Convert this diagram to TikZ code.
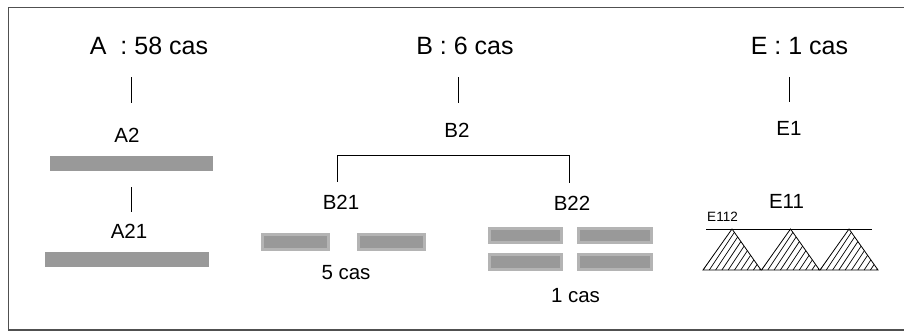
\documentclass[tikz,border=0pt]{standalone}
\usepackage{fontspec}
\setmainfont{Liberation Sans}
\begin{document}
\begin{tikzpicture}[x=1pt,y=-1pt,
  title/.style={inner sep=0pt,font=\fontsize{25}{30}\selectfont},
  lab/.style={inner sep=0pt,font=\fontsize{20.5}{24}\selectfont},
  small/.style={inner sep=0pt,font=\fontsize{13.5}{16}\selectfont},
  bar/.style={fill=barg,draw=none,inner sep=0pt},
  bbar/.style={fill=barg,draw=barl,line width=3pt,inner sep=0pt},
  conn/.style={draw=black,line width=0.8pt},
  hatch/.style={black,line width=0.7pt},
  tri/.style={draw=black,line width=0.8pt}]
\definecolor{barg}{HTML}{999999}
\definecolor{barl}{HTML}{B4B4B4}
\definecolor{framec}{HTML}{505050}
\useasboundingbox (0,0) rectangle (904,332);
% frame
\draw[framec,line width=1.2pt] (904,7.5) -- (8.5,7.5) -- (8.5,330) -- (904,330);

% ---- A column
\node[title] (at) at (149,46) {A\ \ : 58 cas};
\node[lab] (a2) at (127,135) {A2};
\node[bar,minimum width=163pt,minimum height=15pt] (a2bar) at (131.5,163.5) {};
\node[lab] (a21) at (129,231) {A21};
\node[bar,minimum width=164pt,minimum height=15pt] (a21bar) at (127,259.5) {};
\draw[conn] ([yshift=-22pt]at.south -| a2bar.north) -- ([yshift=-48pt]at.south -| a2bar.north);
\draw[conn] ([yshift=-16pt]a2bar.south) -- ([yshift=-41pt]a2bar.south);

% ---- B column
\node[title] (bt) at (465,46) {B : 6 cas};
\node[lab] (b2) at (457,130) {B2};
\draw[conn] ([yshift=-22pt]bt.south -| 458,0) -- ([yshift=-48pt]bt.south -| 458,0);
\node[lab] (b21) at (341,202) {B21};
\node[lab] (b22) at (572,203) {B22};
\draw[conn] ([xshift=-4pt,yshift=13pt]b21.north) -- ++(0,-26) -| ([xshift=-3pt,yshift=13pt]b22.north);
\node[bbar,minimum width=66pt,minimum height=15pt] (b21a) at (295.5,242) {};
\node[bbar,minimum width=66pt,minimum height=15pt] (b21b) at (391.5,242) {};
\node[lab] (c5) at (346,272.5) {5 cas};
\node[bbar,minimum width=72pt,minimum height=14pt] (b22a) at (525.5,235.5) {};
\node[bbar,minimum width=73pt,minimum height=14pt] (b22b) at (615,235.5) {};
\node[bbar,minimum width=72pt,minimum height=15pt] (b22c) at (525.5,262) {};
\node[bbar,minimum width=73pt,minimum height=15pt] (b22d) at (615,262) {};
\node[lab] (c1) at (575.5,296) {1 cas};

% ---- E column
\node[title] (et) at (799.5,46) {E : 1 cas};
\node[lab] (e1) at (789,128.5) {E1};
\draw[conn] ([yshift=-22pt]et.south -| e1.north) -- ([yshift=-47pt]et.south -| e1.north);
\node[lab] (e11) at (786.5,201.5) {E11};
\node[small] (e112) at (722.5,217) {E112};
\coordinate (ll) at (706,229);
\coordinate (lr) at (872,229);
\draw[conn] (ll) -- (lr);
\foreach \x in {703,761.5,820}{
  \begin{scope}
    \clip (\x,270) -- (\x+29,229) -- (\x+58,270) -- cycle;
    \foreach \k in {-7,...,10}{
      \draw[hatch] (\x+\k*6.3,270) -- ++(28,-42);
    }
  \end{scope}
  \draw[tri] (\x,270) -- (\x+29,229) -- (\x+58,270) -- cycle;
}
\end{tikzpicture}
\end{document}
